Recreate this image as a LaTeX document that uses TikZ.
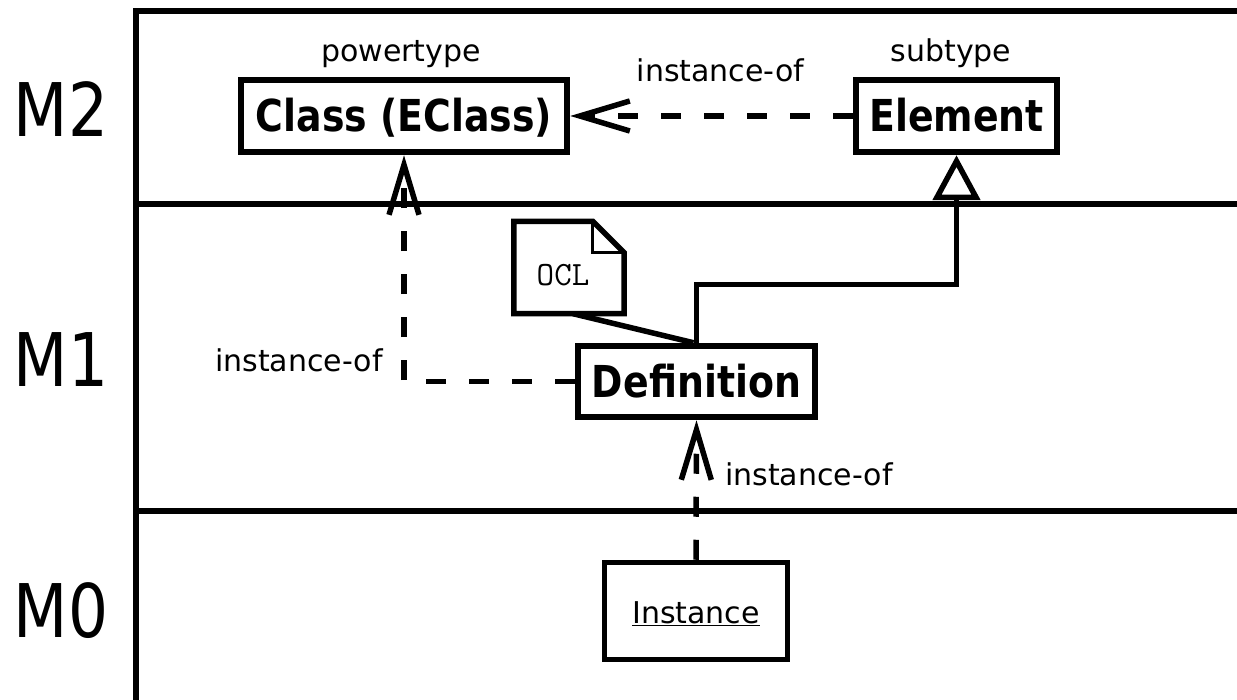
\documentclass[tikz,border=0pt]{standalone}
\usepackage{fontspec}
\setmainfont{DejaVu Sans}
\newfontfamily\boxfont{DejaVu Sans}[FakeStretch=0.86]
\newfontfamily\levelfont{DejaVu Sans}[FakeStretch=0.85]
\usetikzlibrary{arrows.meta}
\begin{document}
\begin{tikzpicture}[x=1pt,y=-1pt,
 frame/.style={line width=5.5pt},
 classbox/.style={draw, line width=6.5pt, rectangle, inner sep=0pt, font=\boxfont\bfseries\fontsize{44}{48}\selectfont, text height=32pt, text depth=0pt},
 objbox/.style={draw, line width=5.5pt, rectangle, inner sep=0pt, font=\fontsize{30}{34}\selectfont, text height=24pt, text depth=0pt},
 lbl/.style={font=\fontsize{30}{34}\selectfont, inner sep=0pt, anchor=base},
 level/.style={font=\levelfont\fontsize{74}{80}\selectfont, inner sep=0pt, anchor=base},
 instof/.style={line width=5.5pt, dash pattern=on 20pt off 23pt, -{Straight Barb[length=50pt,width=30pt]}},
 gen/.style={line width=5.5pt, -{Triangle[length=45pt,width=47pt,fill=white]}},
 notebox/.style={rectangle, inner sep=0pt, minimum width=110pt, minimum height=92pt},
 notetext/.style={font=\ttfamily\fontsize{34}{36}\selectfont, inner sep=0pt, anchor=base},
]
\useasboundingbox (0,0) rectangle (1237,700);
\fill[white] (0,0) rectangle (1237,700);

% frame
\draw[frame] (136,700) -- (136,11) -- (1237,11);
\draw[frame] (136,204) -- (1237,204);
\draw[frame] (136,511) -- (1237,511);

% level labels
\node[level] (m2) at (61,137) {M2};
\node[level] (m1) at (61,387) {M1};
\node[level] (m0) at (61,637) {M0};

% boxes
\node[classbox, minimum width=326pt, minimum height=72pt] (cls) at (404,116) {Class (EClass)};
\node[classbox, minimum width=201pt, minimum height=72pt] (elem) at (956.5,116) {Element};
\node[classbox, minimum width=237pt, minimum height=71pt] (def) at (696.5,381.5) {Definition};
\node[objbox, minimum width=183pt, minimum height=97pt] (inst) at (696,611) {\underline{Instance}};

% labels above boxes
\node[lbl] (pt) at (401,62) {powertype};
\node[lbl] (st) at (951,62) {subtype};

% note
\node[notebox] (note) at (569,267.5) {};
\draw[line width=5.5pt, line join=miter, fill=white] (note.south west) -- (note.north west) -- ([xshift=-31.5pt]note.north east) -- ([yshift=-31.5pt]note.north east) -- (note.south east) -- cycle;
\draw[line width=3pt] ([xshift=-31.5pt]note.north east) -- ([xshift=-31.5pt,yshift=-31.5pt]note.north east) -- ([yshift=-31.5pt]note.north east);
\node[notetext] (ocltext) at (563,286) {OCL};
\draw[line width=5.5pt] ([xshift=4pt]note.south) -- ([xshift=-3pt]def.north);

% connectors
\draw[gen] (def.north) -- ++(0,-58) -| (elem.south);
\draw[instof] (elem.west) -- (cls.east);
\draw[instof] (def.west) -| (cls.south);
\draw[instof] (inst.north) -- (def.south);

% connector labels
\node[lbl] (l1) at (720.5,82) {instance-of};
\node[lbl, anchor=base west] (l2) at (215,372) {instance-of};
\node[lbl, anchor=base west] (l3) at (725,485) {instance-of};
\end{tikzpicture}
\end{document}
